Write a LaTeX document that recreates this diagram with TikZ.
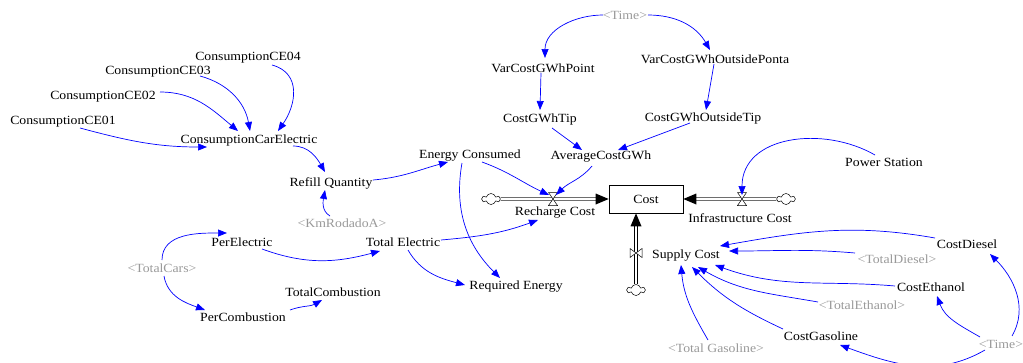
\documentclass[tikz,border=0pt]{standalone}
\usepackage{fontspec}
\setmainfont[FakeStretch=1.1]{Liberation Serif}
\usetikzlibrary{arrows.meta,shapes.symbols}
\definecolor{shadow}{HTML}{999999}
\tikzset{
  v/.style={font=\fontsize{12.5}{14}\selectfont, inner sep=1pt},
  gv/.style={v, text=shadow},
  lnk/.style={draw=blue, line width=0.7pt, -{Triangle[length=9pt,width=7pt]}, fill=none},
  pipe/.style={draw=black, line width=0.6pt, double=white, double distance=2.2pt},
  tip/.style={fill=black},
  valve/.style={draw=black, fill=white, line width=0.5pt},
  cl/.style={cloud, cloud puffs=6, aspect=2, draw, line width=0.5pt, minimum width=18pt, minimum height=11pt, inner sep=0pt, fill=white},
}
\begin{document}
\begin{tikzpicture}[x=1pt,y=1pt]
\useasboundingbox (0,0) rectangle (1023,-362);
% variables
\node[v] (ce01) at (63,-122) {ConsumptionCE01};
\node[v] (ce02) at (103,-97) {ConsumptionCE02};
\node[v] (ce03) at (158,-72) {ConsumptionCE03};
\node[v] (ce04) at (248,-58) {ConsumptionCE04};
\node[v] (cce) at (249,-140) {ConsumptionCarElectric};
\node[v] (refill) at (331,-183) {Refill Quantity};
\node[gv] (km) at (342,-223) {<KmRodadoA>};
\node[v] (econs) at (470,-156) {Energy Consumed};
\node[gv] (time1) at (625,-15) {<Time>};
\node[v] (vpoint) at (543,-68) {VarCostGWhPoint};
\node[v] (tipn) at (540,-119) {CostGWhTip};
\node[v] (avg) at (601,-157) {AverageCostGWh};
\node[v] (vout) at (715,-59) {VarCostGWhOutsidePonta};
\node[v] (otip) at (703,-118) {CostGWhOutsideTip};
\node[v] (power) at (884,-162) {Power Station};
\node[v] (perel) at (242,-242) {PerElectric};
\node[gv] (tcars) at (162,-268) {<TotalCars>};
\node[v] (percomb) at (243,-317) {PerCombustion};
\node[v] (tcomb) at (333,-292) {TotalCombustion};
\node[v] (tel) at (403,-242) {Total Electric};
\node[v] (req) at (516,-287) {Required Energy};
\node[v] (cdiesel) at (967,-244) {CostDiesel};
\node[gv] (tdiesel) at (897,-259) {<TotalDiesel>};
\node[v] (ceth) at (931,-287) {CostEthanol};
\node[gv] (teth) at (862,-305) {<TotalEthanol>};
\node[v] (cgas) at (821,-336) {CostGasoline};
\node[gv] (tgas) at (716,-348) {<Total Gasoline>};
\node[gv] (time2) at (1001,-344) {<Time>};
% stock
\node[v, draw, line width=0.6pt, minimum width=74pt, minimum height=28pt] (cost) at (646,-199) {Cost};
% flows
\coordinate (rv) at (553,-199);
\coordinate (iv) at (742,-199);
\coordinate (sv) at (636,-253);
\node[cl] (cl1) at (491,-199) {};
\node[cl] (cl2) at (786,-199) {};
\node[cl] (cl3) at (636,-290) {};
\node[v] (rlab) at (555,-213) {Recharge Cost};
\node[v] (ilab) at (740,-218) {Infrastructure Cost};
\node[v] (slab) at (686,-256) {Supply Cost};
\draw[pipe, shorten >=12pt] (cl1.east) -- (cost.west);
\fill[tip] (cost.west) -- ++(-13,5.5) -- ++(0,-11) -- cycle;
\draw[pipe, shorten >=12pt] (cl2.west) -- (cost.east);
\fill[tip] (cost.east) -- ++(13,5.5) -- ++(0,-11) -- cycle;
\draw[pipe, shorten >=12pt] (cl3.north) -- (sv |- cost.south);
\fill[tip] (sv |- cost.south) -- ++(-5.5,-13) -- ++(11,0) -- cycle;
\draw[valve] (rv) -- ++(-4.5,6.5) -- ++(9,0) -- cycle (rv) -- ++(-4.5,-6.5) -- ++(9,0) -- cycle;
\draw[valve] (iv) -- ++(-4.5,6.5) -- ++(9,0) -- cycle (iv) -- ++(-4.5,-6.5) -- ++(9,0) -- cycle;
\draw[valve] (sv) -- ++(-6,4.5) -- ++(0,-9) -- cycle (sv) -- ++(6,4.5) -- ++(0,-9) -- cycle;
% links
\draw[lnk] ([shift={(17,-6)}]ce01.center) to[out=-15,in=180] ([shift={(-42,-7)}]cce.center);
\draw[lnk] ([shift={(57,5)}]ce02.center) to[out=0,in=140] ([shift={(-11,9)}]cce.center);
\draw[lnk] ([shift={(42,-4)}]ce03.center) to[out=-15,in=100] ([shift={(1,9)}]cce.center);
\draw[lnk] ([shift={(24,-7)}]ce04.center) to[out=-15,in=55,looseness=1.2] ([shift={(29,9)}]cce.center);
\draw[lnk] ([shift={(44,-6)}]cce.center) to[out=0,in=120] ([shift={(-6,11)}]refill.center);
\draw[lnk] ([shift={(-12,7)}]km.center) to[out=150,in=-100] ([shift={(-6,-7)}]refill.center);
\draw[lnk] ([shift={(42,3)}]refill.center) to[out=5,in=-165] ([shift={(-22,-6)}]econs.center);
\draw[lnk] ([shift={(12,-6)}]econs.center) to[out=-20,in=155] ([shift={(-4,4)}]rv);
\draw[lnk] ([shift={(-8,-7)}]econs.center) to[out=-100,in=135] ([shift={(-16,9)}]req.center);
\draw[lnk] ([shift={(-9,-9)}]avg.center) to[out=-130,in=45] ([shift={(3,4)}]rv);
\draw[lnk] ([shift={(12,-9)}]tipn.center) -- ([shift={(-19,7)}]avg.center);
\draw[lnk] ([shift={(-2,-5)}]vpoint.center) -- ([shift={(0,9)}]tipn.center);
\draw[lnk] ([shift={(-22,0)}]time1.center) to[out=180,in=90] ([shift={(2,10)}]vpoint.center);
\draw[lnk] ([shift={(23,0)}]time1.center) to[out=0,in=120] ([shift={(-5,9)}]vout.center);
\draw[lnk] ([shift={(-1,-5)}]vout.center) -- ([shift={(3,8)}]otip.center);
\draw[lnk] ([shift={(-13,-5)}]otip.center) -- ([shift={(17,7)}]avg.center);
\draw[lnk] ([shift={(-9,7)}]power.center) to[out=150,in=90,looseness=1.1] ([shift={(0,4)}]iv);
\draw[lnk] ([shift={(38,2)}]tel.center) to[out=5,in=-160] ([shift={(-17,-7)}]rlab.center);
\draw[lnk] ([shift={(20,-7)}]perel.center) to[out=-20,in=-165] ([shift={(-23,-9)}]tel.center);
\draw[lnk] ([shift={(5,-8)}]tel.center) to[out=-60,in=165] ([shift={(-51,2)}]req.center);
\draw[lnk] ([shift={(0,8)}]tcars.center) to[out=90,in=180] ([shift={(-15,9)}]perel.center);
\draw[lnk] ([shift={(2,-8)}]tcars.center) to[out=-80,in=160] ([shift={(-38,7)}]percomb.center);
\draw[lnk] ([shift={(47,7)}]percomb.center) to[out=20,in=-150] ([shift={(-11,-8)}]tcomb.center);
\draw[lnk] ([shift={(-32,6)}]cdiesel.center) to[out=170,in=10] ([shift={(34,10)}]slab.center);
\draw[lnk] ([shift={(-42,6)}]tdiesel.center) to[out=175,in=0] ([shift={(43,5)}]slab.center);
\draw[lnk] ([shift={(-36,1)}]ceth.center) to[out=175,in=-20] ([shift={(29,-9)}]slab.center);
\draw[lnk] ([shift={(-44,3)}]teth.center) to[out=170,in=-30] ([shift={(12,-11)}]slab.center);
\draw[lnk] ([shift={(-38,7)}]cgas.center) to[out=155,in=-45] ([shift={(6,-11)}]slab.center);
\draw[lnk] ([shift={(-8,8)}]tgas.center) to[out=120,in=-85] ([shift={(-5,-9)}]slab.center);
\draw[lnk] ([shift={(11,8)}]time2.center) to[out=60,in=-45] ([shift={(23,-10)}]cdiesel.center);
\draw[lnk] ([shift={(-21,7)}]time2.center) to[out=150,in=-70] ([shift={(6,-9)}]ceth.center);
\draw[lnk] ([shift={(-16,-6)}]time2.center) to[out=-150,in=-20] ([shift={(19,-9)}]cgas.center);
\end{tikzpicture}
\end{document}
